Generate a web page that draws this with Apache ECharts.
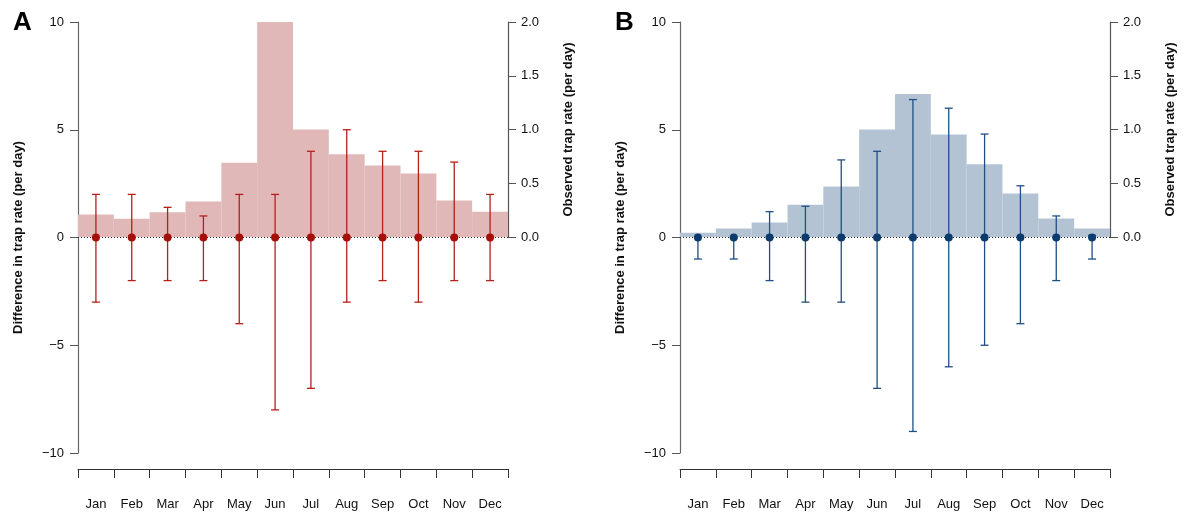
<!DOCTYPE html>
<html><head><meta charset="utf-8">
<script src="https://cdn.jsdelivr.net/npm/echarts@6/dist/echarts.min.js"></script>
<style>html,body{margin:0;padding:0;background:#fff}#c{width:1187px;height:522px}</style>
</head><body><div id="c"></div>
<script>
var months = ['Jan','Feb','Mar','Apr','May','Jun','Jul','Aug','Sep','Oct','Nov','Dec'];
var leftTicks = [-10,-5,0,5,10];
var rightTicks = [0.0,0.5,1.0,1.5,2.0];
// Panel A
var obsA = [0.21,0.17,0.23,0.33,0.69,2.0,1.0,0.77,0.665,0.59,0.34,0.235];
var upA = [2,2,1.4,1,2,2,4,5,4,4,3.5,2];
var loA = [-3,-2,-2,-2,-4,-8,-7,-3,-2,-3,-2,-2];
var diffA = [0,0,0,0,0,0,0,0,0,0,0,0];
// Panel B
var obsB = [0.04,0.078,0.134,0.30,0.47,1.0,1.33,0.953,0.677,0.405,0.171,0.078];
var upB = [0,0,1.2,1.45,3.6,4,6.4,6,4.8,2.4,1,0.1];
var loB = [-1,-1,-2,-3,-3,-7,-9,-6,-5,-4,-2,-1];
var diffB = [0,0,0,0,0,0,0,0,0,0,0,0];

var FONT = "'Liberation Sans', Arial, Helvetica, sans-serif";
var chart = echarts.init(document.getElementById('c'));

var panels = [
  {left:78, bar:'#e0b8b8', err:'#b3211b', dot:'#a50f0a', obs:obsA, up:upA, lo:loA, diff:diffA},
  {left:680, bar:'#b3c3d3', err:'#1f4f85', dot:'#0b3a6e', obs:obsB, up:upB, lo:loB, diff:diffB}
];
var W = 430;
var grids=[], xAxes=[], yAxes=[], series=[];
panels.forEach(function(p, i){
  var gFull = grids.length;
  grids.push({left:p.left, width:W, top:22, height:431});
  var gTop = grids.length;
  grids.push({left:p.left, width:W, top:22, height:215});
  var xFull = xAxes.length;
  xAxes.push({type:'category', gridIndex:gFull, data:months, boundaryGap:true, offset:16, position:'bottom',
    axisLine:{show:true, onZero:false, lineStyle:{color:'#333', width:1}},
    axisTick:{show:true, length:9, lineStyle:{color:'#333'}},
    axisLabel:{color:'#111', fontSize:13, fontFamily:FONT, margin:29, interval:0},
    splitLine:{show:false}});
  var xTop = xAxes.length;
  xAxes.push({type:'category', gridIndex:gTop, data:months, boundaryGap:true, show:false});
  var yLeft = yAxes.length;
  yAxes.push({type:'value', gridIndex:gFull, min:-10, max:10, interval:5, position:'left',
    name:'Difference in trap rate (per day)', nameLocation:'middle', nameRotate:90, nameGap:53,
    nameTextStyle:{fontSize:13, fontWeight:'bold', color:'#111', fontFamily:FONT},
    axisLine:{show:true, onZero:false, lineStyle:{color:'#666', width:1.2}},
    axisTick:{show:true, length:8, lineStyle:{color:'#555'}},
    axisLabel:{color:'#111', fontSize:13, fontFamily:FONT, margin:14,
      formatter:function(v){return v<0 ? '\u2212'+Math.abs(v) : String(v);}},
    splitLine:{show:false}});
  var yRight = yAxes.length;
  yAxes.push({type:'value', gridIndex:gTop, min:0, max:2, interval:0.5, position:'right',
    name:'Observed trap rate (per day)', nameLocation:'middle', nameRotate:90, nameGap:54,
    nameTextStyle:{fontSize:13, fontWeight:'bold', color:'#111', fontFamily:FONT},
    axisLine:{show:true, onZero:false, lineStyle:{color:'#555', width:1.2}},
    axisTick:{show:true, length:8, lineStyle:{color:'#555'}},
    axisLabel:{color:'#111', fontSize:13, fontFamily:FONT, margin:13,
      formatter:function(v){return v.toFixed(1);}},
    splitLine:{show:false}});
  series.push({type:'bar', xAxisIndex:xTop, yAxisIndex:yRight, data:p.obs,
    barWidth:'100%', barCategoryGap:'0%', itemStyle:{color:p.bar}, z:1, silent:true});
  var errData = months.map(function(m, k){ return [k, p.lo[k], p.up[k]]; });
  series.push({type:'custom', xAxisIndex:xFull, yAxisIndex:yLeft, data:errData, z:3,
    renderItem:function(params, api){
      var x = api.value(0);
      var lo = api.coord([x, api.value(1)]);
      var hi = api.coord([x, api.value(2)]);
      var c = 4;
      var st = {stroke:p.err, lineWidth:1.3};
      return {type:'group', children:[
        {type:'line', shape:{x1:lo[0], y1:lo[1], x2:hi[0], y2:hi[1]}, style:st},
        {type:'line', shape:{x1:lo[0]-c, y1:lo[1], x2:lo[0]+c, y2:lo[1]}, style:st},
        {type:'line', shape:{x1:hi[0]-c, y1:hi[1], x2:hi[0]+c, y2:hi[1]}, style:st}
      ]};
    }});
  series.push({type:'scatter', xAxisIndex:xFull, yAxisIndex:yLeft, data:p.diff,
    symbol:'circle', symbolSize:8, itemStyle:{color:p.dot, opacity:1}, z:4,
    markLine:{silent:true, symbol:['none','none'], label:{show:false},
      lineStyle:{type:[1,2], color:'#222', width:1}, data:[{yAxis:0}], z:2}});
});

chart.setOption({
  animation:false,
  backgroundColor:'#fff',
  grid:grids, xAxis:xAxes, yAxis:yAxes, series:series,
  graphic:[
    {type:'text', left:13, top:10, style:{text:'A', fontSize:26, fontWeight:'bold', fill:'#000', fontFamily:FONT}},
    {type:'text', left:615, top:10, style:{text:'B', fontSize:26, fontWeight:'bold', fill:'#000', fontFamily:FONT}}
  ]
});
</script></body></html>
